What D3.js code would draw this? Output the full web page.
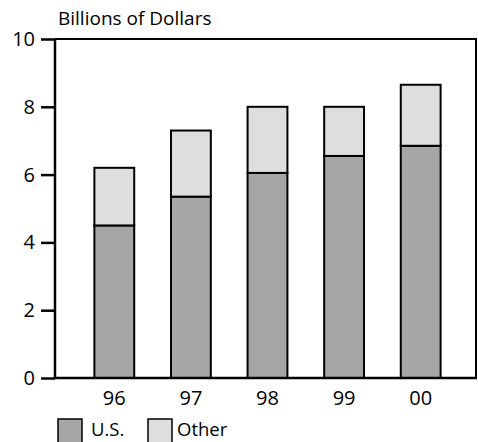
<!DOCTYPE html>
<html>
<head>
<meta charset="utf-8">
<script src="https://cdn.jsdelivr.net/npm/d3@7"></script>
<style>
  body { margin: 0; background: #fff; overflow: hidden; }
  text { font-family: "Open Sans", sans-serif; fill: #000; }
</style>
</head>
<body>
<svg id="chart"></svg>
<script>
// Chart data
const years = ["96", "97", "98", "99", "00"];
const usValues = [4.5, 5.35, 6.05, 6.55, 6.85];
const otherValues = [1.7, 1.95, 1.95, 1.45, 1.8];
const yTicks = [0, 2, 4, 6, 8, 10];
const seriesNames = ["U.S.", "Other"];
const seriesColors = ["#a6a6a6", "#dedede"];

const width = 478, height = 442;
const svg = d3.select("#chart").attr("width", width).attr("height", height);

// Plot area
const plotLeft = 55, plotRight = 477, plotTop = 39, plotBottom = 378;

const y = d3.scaleLinear().domain([0, 10]).range([plotBottom, plotTop]);
const x = d3.scaleBand().domain(years).range([76, 459]).paddingInner(0.48).paddingOuter(0.24);

// Stack the two series
const rows = years.map((yr, i) => ({ year: yr, "U.S.": usValues[i], "Other": otherValues[i] }));
const stacked = d3.stack().keys(seriesNames)(rows);

const color = d3.scaleOrdinal().domain(seriesNames).range(seriesColors);

// Bars
svg.append("g")
  .selectAll("g")
  .data(stacked)
  .join("g")
    .attr("fill", d => color(d.key))
  .selectAll("rect")
  .data(d => d)
  .join("rect")
    .attr("x", d => x(d.data.year))
    .attr("y", d => y(d[1]))
    .attr("width", x.bandwidth())
    .attr("height", d => y(d[0]) - y(d[1]))
    .attr("stroke", "#000")
    .attr("stroke-width", 2);

// Frame: top and right edges
svg.append("path")
  .attr("d", `M${plotLeft},${plotTop}H${plotRight - 1}V${plotBottom}`)
  .attr("fill", "none")
  .attr("stroke", "#000")
  .attr("stroke-width", 2);

// Y axis
const yAxis = svg.append("g")
  .attr("transform", `translate(${plotLeft},0)`)
  .call(d3.axisLeft(y).tickValues(yTicks).tickSize(14).tickPadding(6).tickFormat(d3.format("d")));
yAxis.select(".domain").attr("stroke-width", 2.5).attr("d", `M0,${plotTop}V${plotBottom}`);
yAxis.selectAll(".tick line").attr("stroke-width", 2.5);
yAxis.selectAll(".tick text").attr("font-size", 20).attr("font-family", "Open Sans, sans-serif");

// X axis (baseline)
const xAxis = svg.append("g")
  .attr("transform", `translate(0,${plotBottom})`)
  .call(d3.axisBottom(x).tickSize(0).tickPadding(13));
xAxis.select(".domain").attr("stroke-width", 2.5).attr("d", `M${plotLeft},0H${plotRight}`);
xAxis.selectAll(".tick text").attr("font-size", 20).attr("font-family", "Open Sans, sans-serif");

// Title
svg.append("text")
  .attr("x", 58)
  .attr("y", 25)
  .attr("font-size", 19)
  .text("Billions of Dollars");

// Legend
const legendX = [58, 148];
const legendTextX = [33, 29];
const legend = svg.append("g").selectAll("g")
  .data(seriesNames)
  .join("g")
    .attr("transform", (d, i) => `translate(${legendX[i]},419)`);
legend.append("rect")
  .attr("width", 24)
  .attr("height", 28)
  .attr("fill", d => color(d))
  .attr("stroke", "#000")
  .attr("stroke-width", 1.5);
legend.append("text")
  .attr("x", (d, i) => legendTextX[i])
  .attr("y", 17)
  .attr("font-size", 18.5)
  .text(d => d);
</script>
</body>
</html>
